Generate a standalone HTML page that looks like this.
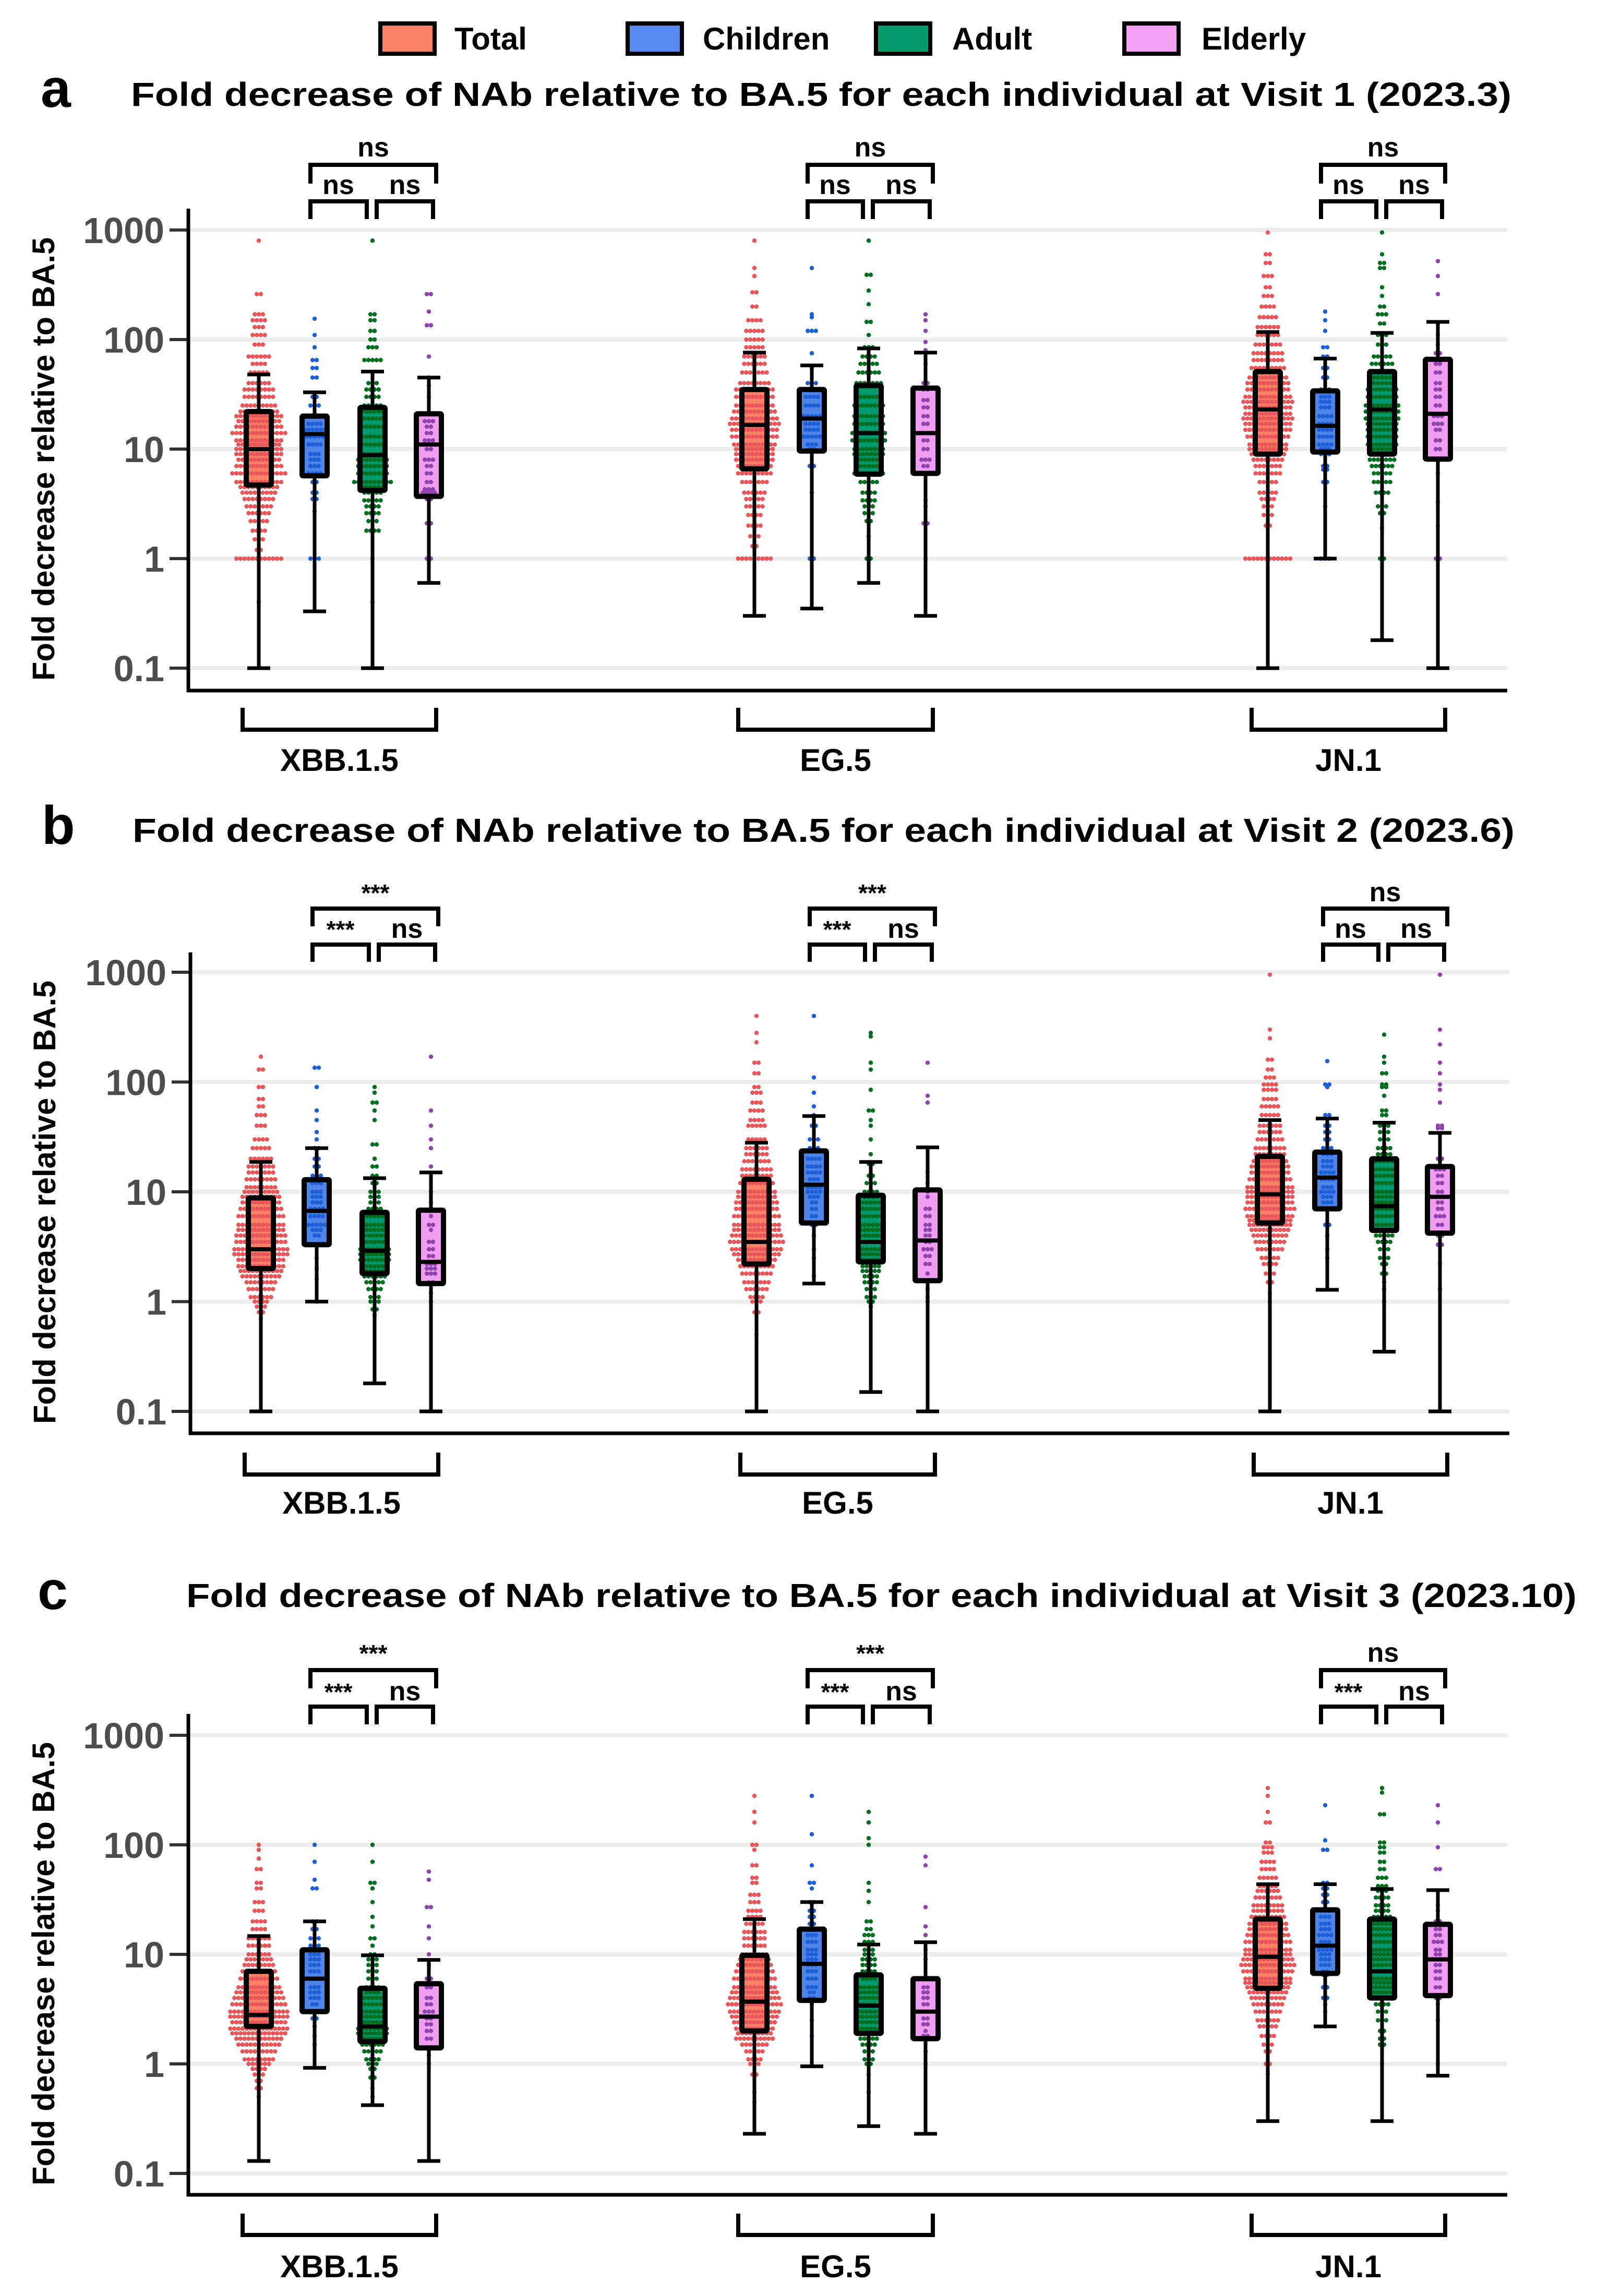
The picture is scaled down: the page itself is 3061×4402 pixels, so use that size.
<!DOCTYPE html>
<html><head><meta charset="utf-8"><style>
html,body{margin:0;padding:0;background:#fff;}
svg{display:block;}
text{font-family:"Liberation Sans",Arial,sans-serif;font-weight:bold;}
</style></head>
<body>
<svg id="chart" xmlns="http://www.w3.org/2000/svg" width="3061" height="4402" viewBox="0 0 3061 4402">
<g>
<rect x="729" y="45" width="104" height="58" fill="#fb8266" stroke="#000" stroke-width="8"/>
<text x="871" y="95" font-size="60">Total</text>
<rect x="1203" y="45" width="104" height="58" fill="#5889ee" stroke="#000" stroke-width="8"/>
<text x="1347" y="95" font-size="60">Children</text>
<rect x="1679" y="45" width="104" height="58" fill="#059a6a" stroke="#000" stroke-width="8"/>
<text x="1825" y="95" font-size="60">Adult</text>
<rect x="2155" y="45" width="104" height="58" fill="#f4a0f4" stroke="#000" stroke-width="8"/>
<text x="2303" y="95" font-size="60">Elderly</text>
</g>
</svg>
<script>
const variants = ["XBB.1.5","EG.5","JN.1"];
const groups = ["Total","Children","Adult","Elderly"];
const tickValues = [0.1,1,10,100,1000];
const tickLabels = ["0.1","1","10","100","1000"];

// Visit 1 box stats (order: XBB Total,Children,Adult,Elderly, EG ..., JN ...)
const v1Low    = [0.1,0.33,0.1,0.6, 0.3,0.35,0.6,0.3, 0.1,1,0.18,0.1];
const v1Q1     = [4.7,5.7,4.2,3.7, 6.6,9.6,5.9,6, 9,9.4,9,8.1];
const v1Median = [10,13.7,8.8,11, 16.6,19,14,14, 23,16.3,23,21];
const v1Q3     = [22,20,24,21, 35,35,38,36, 51,34,51,66];
const v1High   = [48,33,51,45, 76,58,83,76, 117,67,115,145];
// Visit 2
const v2Low    = [0.1,1.0,0.18,0.1, 0.1,1.46,0.15,0.1, 0.1,1.28,0.35,0.1];
const v2Q1     = [2.0,3.3,1.8,1.46, 2.2,5.2,2.3,1.55, 5.2,7,4.45,4.2];
const v2Median = [3.0,6.7,2.9,2.3, 3.5,11.6,3.5,3.6, 9.5,13.5,7.4,9];
const v2Q3     = [8.8,12.9,6.5,6.8, 13,23.6,9.3,10.4, 21,23,20,17];
const v2High   = [18.7,25,13.3,15, 28,49,18.7,25.4, 45,46.5,42.6,34.4];
// Visit 3
const v3Low    = [0.13,0.92,0.42,0.13, 0.23,0.95,0.27,0.23, 0.3,2.2,0.3,0.78];
const v3Q1     = [2.2,3,1.6,1.4, 2.0,3.8,1.9,1.7, 4.9,6.7,4,4.2];
const v3Median = [2.8,6,2.2,2.7, 3.7,8.2,3.4,3.0, 9.5,12,7,9];
const v3Q3     = [7,11,4.9,5.4, 9.8,17,6.5,6, 21,25.5,21,18.8];
const v3High   = [14.7,20,9.8,8.9, 21,30,12.3,12.9, 43.7,43.7,39.5,38.6];

// Individual values as [value, count] rows of the dot plot
const v1Points = [
[[800,1],[260,2],[170,3],[150,4],[130,3],[110,4],[90,3],[70,6],[60,4],[50,5],[40,6],[35,8],[30,8],[25,9],[22,10],[20,12],[18,11],[16,12],[14,14],[12,12],[11,11],[10,12],[9,12],[8,11],[7,12],[6,14],[5,12],[4.5,10],[4,9],[3.5,8],[3,7],[2.6,6],[2.2,5],[1.8,4],[1.5,3],[1.2,2],[1,12],[0.4,1]],
[[155,1],[110,1],[85,1],[65,2],[55,2],[45,2],[30,2],[25,3],[20,4],[17,4],[15,6],[13,5],[11,4],[9,3],[8,3],[7,3],[6,4],[5,2],[4,2],[3.5,2],[2.7,1],[1,3]],
[[800,1],[170,2],[150,2],[120,2],[100,2],[85,3],[65,5],[40,3],[35,4],[30,4],[25,5],[22,6],[19,5],[16,6],[13,6],[11,6],[9,7],[8,8],[7,8],[6,8],[5,10],[4.5,6],[4,5],[3.4,5],[3,4],[2.6,4],[2.2,3],[1.8,4],[1,1],[0.4,1]],
[[260,2],[180,1],[135,2],[70,1],[45,1],[38,1],[30,1],[21,3],[18,3],[16,2],[14,2],[12,3],[11,4],[10,2],[8,3],[7,2],[6,2],[5,2],[4.3,3],[4,4],[3.5,2],[2.1,2],[1,2]],
[[800,1],[450,1],[380,1],[270,2],[200,2],[150,4],[120,5],[100,5],[85,5],[70,6],[60,6],[50,7],[40,8],[35,10],[30,10],[25,10],[22,11],[19,12],[17,13],[15,12],[13,12],[11,11],[10,10],[9,10],[8,10],[7,9],[6,9],[5,7],[4,6],[3.5,5],[3,5],[2.5,4],[2,4],[1.6,3],[1.3,2],[1,9]],
[[450,1],[170,1],[160,1],[120,3],[75,1],[55,1],[40,3],[35,4],[30,4],[25,4],[20,5],[17,4],[15,4],[13,5],[11,3],[10,2],[7,2],[4,1],[1,2]],
[[800,1],[390,2],[280,1],[210,1],[145,2],[110,1],[85,3],[70,4],[60,5],[50,6],[40,7],[30,7],[25,8],[20,8],[17,8],[14,9],[12,9],[10,8],[9,8],[8,7],[7,7],[6,8],[5,5],[4,4],[3.4,4],[3,3],[2.6,3],[2.2,2],[1.6,1],[1,2]],
[[170,1],[150,1],[120,1],[95,1],[80,1],[60,1],[40,2],[35,2],[28,2],[24,2],[20,2],[17,2],[14,4],[12,2],[10,2],[8,3],[7,2],[6,2],[3.4,1],[3,1],[2.1,2],[1,1]],
[[950,1],[600,2],[500,2],[380,3],[300,2],[250,3],[200,4],[160,5],[130,6],[110,6],[90,7],[75,8],[65,8],[55,9],[45,10],[40,11],[35,11],[30,12],[27,13],[24,12],[21,12],[19,13],[17,12],[15,12],[13,11],[11,10],[10,10],[9,9],[8,8],[7,7],[6,7],[5,5],[4,5],[3.5,4],[3,3],[2.5,3],[2,2],[1,12]],
[[180,1],[150,1],[120,1],[85,2],[70,2],[55,2],[45,2],[35,3],[30,3],[27,3],[24,3],[20,4],[17,4],[15,4],[13,4],[11,4],[10,3],[9,3],[7,2],[6.5,2],[5,2],[3,1],[1,3]],
[[950,1],[600,1],[500,2],[450,2],[300,1],[250,1],[200,2],[170,3],[140,2],[110,3],[90,3],[70,5],[60,6],[50,7],[45,7],[40,7],[35,8],[30,8],[25,9],[22,9],[19,9],[17,8],[15,8],[13,8],[11,8],[10,7],[9,7],[8,7],[7,6],[6,5],[5,5],[4,4],[3,3],[2.6,2],[1.9,1],[1,2]],
[[520,1],[380,1],[260,1],[140,1],[110,1],[90,1],[75,2],[60,2],[50,2],[40,2],[35,2],[30,2],[25,2],[20,3],[17,3],[15,2],[12,2],[10,2],[8,2],[6,1],[3.3,1],[2,1],[1,2]]
];
const v2Points = [
[[170,1],[130,2],[90,2],[70,2],[60,2],[50,3],[40,3],[30,4],[25,5],[20,6],[17,7],[15,7],[13,8],[11,8],[10,9],[9,10],[8,10],[7,11],[6,12],[5,12],[4.5,12],[4,13],[3.5,13],[3,14],[2.7,14],[2.4,12],[2.1,12],[1.9,11],[1.7,10],[1.5,8],[1.3,7],[1.1,6],[1,4],[0.9,3],[0.8,2],[0.7,1]],
[[135,2],[90,1],[55,1],[45,1],[35,1],[30,1],[25,2],[20,2],[17,2],[14,3],[12,3],[10,3],[9,3],[8,3],[7,4],[6,4],[5,5],[4.5,3],[4,2],[3.3,2],[2.5,1],[2,1],[1.6,1],[1,1]],
[[90,1],[80,1],[65,2],[55,1],[45,1],[27,2],[20,1],[17,2],[14,2],[12,2],[10,3],[9,3],[8,3],[7,4],[6,5],[5,5],[4.5,5],[4,6],[3.5,7],[3,8],[2.7,8],[2.4,8],[2.1,7],[1.9,7],[1.7,6],[1.5,5],[1.3,4],[1.1,3],[1,3],[0.85,2],[0.75,1]],
[[170,1],[55,1],[40,1],[30,1],[25,1],[17,1],[10,1],[8,1],[6,1],[5,2],[4.5,1],[3.5,2],[3,2],[2.6,2],[2.2,3],[2,3],[1.8,3],[1.5,2],[1.2,1],[1,1]],
[[400,1],[280,1],[230,1],[150,2],[120,2],[90,2],[80,3],[65,3],[55,4],[45,4],[40,5],[30,5],[25,6],[22,6],[19,7],[16,8],[14,8],[12,9],[10,10],[9,10],[8,11],[7,11],[6,12],[5,12],[4.5,12],[4,13],[3.5,14],[3,13],[2.7,12],[2.4,10],[2.1,9],[1.8,8],[1.5,7],[1.3,6],[1.1,4],[1,3],[0.8,2],[0.5,1]],
[[400,1],[110,1],[80,1],[60,1],[50,1],[40,2],[30,3],[25,3],[20,4],[17,4],[15,4],[13,3],[11,4],[10,4],[9,3],[8,2],[7,2],[6,2],[5,2],[4,1],[3,1],[2.5,1],[1.7,1]],
[[280,1],[260,1],[150,1],[130,1],[85,1],[55,2],[45,1],[40,1],[30,1],[22,1],[18,2],[14,2],[12,3],[10,4],[9,4],[8,5],[7,5],[6,6],[5,6],[4.5,6],[4,6],[3.5,7],[3,7],[2.7,6],[2.4,5],[2.1,5],[1.9,5],[1.7,4],[1.5,4],[1.3,3],[1.1,3],[1,2],[0.9,1]],
[[150,1],[75,1],[65,1],[15,1],[12,1],[10,1],[9,1],[7,2],[6,2],[5,2],[4.5,2],[4,2],[3.5,2],[3,3],[2.6,2],[2.2,2],[1.8,1],[1.3,1],[1.1,1],[1,1]],
[[950,1],[300,1],[250,1],[160,2],[130,2],[110,3],[95,4],[85,4],[70,4],[60,5],[50,5],[40,6],[35,6],[30,7],[25,8],[22,8],[19,9],[17,10],[15,10],[13,11],[11,12],[10,12],[9,12],[8,12],[7,13],[6,12],[5.5,11],[5,11],[4.5,10],[4,9],[3.5,8],[3,7],[2.5,5],[2.2,4],[1.8,3],[1.5,2],[1.2,1],[1,1]],
[[155,1],[95,2],[90,1],[50,2],[40,2],[35,2],[30,2],[25,3],[22,3],[19,3],[17,3],[15,4],[13,4],[11,3],[10,4],[9,3],[8,3],[7,2],[5,2],[4,1],[3,1],[2.5,1]],
[[270,1],[170,1],[150,1],[120,2],[95,2],[90,2],[75,1],[55,2],[50,2],[40,3],[35,3],[30,3],[25,4],[22,4],[19,5],[16,5],[14,5],[12,6],[10,6],[9,6],[8,6],[7,6],[6,6],[5,6],[4.5,5],[4,5],[3.5,4],[3,3],[2.5,3],[2.2,2],[1.8,2],[1.5,1],[1.3,1],[1,1]],
[[950,1],[300,1],[220,1],[150,1],[120,1],[95,1],[85,1],[65,1],[40,2],[38,2],[20,2],[16,3],[14,2],[12,2],[10,2],[9,3],[8,2],[7,2],[6,3],[5,2],[4,2],[3.3,2],[2.2,1],[1.3,1]]
];
const v3Points = [
[[100,1],[90,1],[75,1],[60,2],[45,2],[40,2],[30,3],[25,3],[20,4],[17,4],[14,6],[12,6],[10,6],[9,7],[8,8],[7,9],[6,10],[5,11],[4.5,12],[4,13],[3.5,14],[3,15],[2.7,15],[2.4,14],[2.1,15],[1.9,14],[1.7,12],[1.5,11],[1.3,9],[1.1,8],[1,6],[0.9,4],[0.8,3],[0.7,2],[0.6,2],[0.5,1]],
[[100,1],[70,1],[48,1],[40,2],[20,2],[17,2],[14,3],[12,3],[10,3],[9,3],[8,3],[7,3],[6,4],[5,3],[4.5,3],[4,3],[3.5,2],[3,3],[2.6,2],[2.2,1],[1.8,1],[1.5,1]],
[[100,1],[70,1],[45,2],[40,1],[30,1],[22,1],[18,1],[14,2],[12,1],[10,2],[9,3],[8,3],[7,3],[6,3],[5,4],[4.5,4],[4,5],[3.5,5],[3,6],[2.7,6],[2.4,7],[2.1,8],[1.9,8],[1.7,7],[1.5,6],[1.3,5],[1.1,4],[1,3],[0.9,2],[0.75,2],[0.6,1],[0.5,1]],
[[57,1],[48,1],[27,2],[18,1],[14,1],[10,1],[8,1],[6,2],[5,2],[4,2],[3.5,2],[3,3],[2.6,2],[2.3,2],[2,2],[1.7,2],[1.4,1],[1.2,1],[1,1]],
[[280,1],[200,1],[160,1],[100,2],[90,1],[65,2],[50,2],[45,2],[35,3],[30,3],[25,4],[22,4],[19,5],[16,6],[14,6],[12,6],[10,7],[9,8],[8,9],[7,10],[6,11],[5,11],[4.5,12],[4,13],[3.5,14],[3,13],[2.7,12],[2.4,11],[2.1,10],[1.9,9],[1.7,10],[1.5,7],[1.3,5],[1.1,4],[1,3],[0.8,2],[0.55,1],[0.45,1]],
[[280,1],[125,1],[65,1],[45,2],[40,1],[30,2],[25,2],[22,2],[19,2],[17,3],[15,3],[13,3],[11,3],[10,3],[9,3],[8,3],[7,3],[6,3],[5,3],[4.5,2],[4,2],[3.5,1],[2.5,1],[1.8,1]],
[[200,1],[160,1],[115,1],[100,1],[45,1],[38,1],[30,1],[20,2],[17,2],[15,3],[13,3],[11,3],[10,3],[9,4],[8,4],[7,4],[6,4],[5,5],[4.5,5],[4,5],[3.5,6],[3,6],[2.7,6],[2.4,6],[2.1,6],[1.9,5],[1.7,5],[1.5,4],[1.3,3],[1.1,3],[1,2],[0.8,1],[0.55,1]],
[[78,1],[65,1],[27,1],[18,1],[15,1],[11,1],[9,1],[6,1],[5,2],[4.5,2],[4,2],[3.5,2],[3,2],[2.6,2],[2.3,2],[2,1],[1.8,2],[1.7,1],[1.3,1],[1,1]],
[[330,1],[280,1],[200,1],[160,2],[105,2],[95,3],[85,3],[70,4],[60,4],[50,5],[42,5],[38,6],[33,7],[28,8],[25,8],[22,9],[19,10],[17,10],[15,11],[13,12],[11,12],[10,12],[9,13],[8,14],[7,13],[6,12],[5.5,12],[5,11],[4.5,10],[4,9],[3.5,8],[3,7],[2.5,6],[2.2,5],[1.8,4],[1.5,3],[1.3,2],[1,2],[0.8,1]],
[[230,1],[110,1],[90,2],[45,2],[40,2],[35,2],[30,2],[25,3],[22,3],[19,3],[17,3],[15,4],[13,3],[11,4],[10,3],[9,3],[8,3],[7,2],[6.5,2],[5,2],[4,2],[3.5,1],[3,1],[2.2,1]],
[[330,1],[300,1],[190,2],[105,2],[95,2],[85,2],[70,2],[60,2],[50,3],[42,3],[38,3],[33,4],[28,4],[25,4],[22,5],[19,5],[17,5],[15,6],[13,6],[11,6],[10,6],[9,7],[8,7],[7,7],[6,7],[5.5,6],[5,6],[4.5,5],[4,5],[3.5,4],[3,3],[2.5,3],[2,2],[1.7,2],[1.5,2],[1,1]],
[[230,1],[160,1],[95,1],[60,2],[28,1],[25,1],[20,2],[17,2],[15,2],[13,3],[11,2],[10,2],[9,3],[8,2],[7,2],[6,2],[5,2],[4,2],[3.5,1],[2.5,1],[1,1]]
];
const v1SigTop = ["ns","ns","ns"], v1SigLeft = ["ns","ns","ns"], v1SigRight = ["ns","ns","ns"];
const v2SigTop = ["***","***","ns"], v2SigLeft = ["***","***","ns"], v2SigRight = ["ns","ns","ns"];
const v3SigTop = ["***","***","ns"], v3SigLeft = ["***","***","***"], v3SigRight = ["ns","ns","ns"];
const titles = [
 "Fold decrease of NAb relative to BA.5  for each individual at Visit 1 (2023.3)",
 "Fold decrease of NAb relative to BA.5  for each individual at Visit 2 (2023.6)",
 "Fold decrease of NAb relative to BA.5  for each individual at Visit 3 (2023.10)"];
const panelLetters = ["a","b","c"];

const fillColors = ["#fb8266","#4f84e8","#009a70","#f19df1"];
const dotColors = ["#e8565a","#1c5fd6","#006e1e","#8e44ad"];

const layouts = [
 {y1000:441,dec:210,left:361,right:2889,top:400,bottom:1324,dx:0,titleX:251,titleW:2646,titleY:203,letterX:78,letterY:205,yTitleX:104,yTitleC:880,yTitleL:850,brTop:316,brTopDrop:352,brLow:386,brLowDrop:420,topLab:300,lowLab:372,grpTop:1357,grpBot:1399,grpLab:1478},
 {y1000:1864,dec:210.5,left:365,right:2893,top:1826,bottom:2748,dx:4,titleX:254,titleW:2649,titleY:1614,letterX:80,letterY:1618,yTitleX:106,yTitleC:2305,yTitleL:850,brTop:1742,brTopDrop:1776,brLow:1811,brLowDrop:1844,topLab:1728,lowLab:1798,grpTop:2785,grpBot:2827,grpLab:2902},
 {y1000:3327,dec:210,left:361,right:2889,top:3286,bottom:4208,dx:0,titleX:357,titleW:2665,titleY:3081,letterX:72,letterY:3085,yTitleX:104,yTitleC:3765,yTitleL:850,brTop:3202,brTopDrop:3237,brLow:3272,brLowDrop:3306,topLab:3186,lowLab:3260,grpTop:4244,grpBot:4285,grpLab:4366}
];
const baseCx = [[496,603,714,822],[1446,1556,1665,1774],[2430,2540,2649,2756]];

const visitData = [
 {low:v1Low,q1:v1Q1,med:v1Median,q3:v1Q3,high:v1High,pts:v1Points,top:v1SigTop,l:v1SigLeft,r:v1SigRight},
 {low:v2Low,q1:v2Q1,med:v2Median,q3:v2Q3,high:v2High,pts:v2Points,top:v2SigTop,l:v2SigLeft,r:v2SigRight},
 {low:v3Low,q1:v3Q1,med:v3Median,q3:v3Q3,high:v3High,pts:v3Points,top:v3SigTop,l:v3SigLeft,r:v3SigRight}
];

const NS = "http://www.w3.org/2000/svg";
const svg = document.getElementById("chart");
function mk(tag, attrs, parent){
  const e = document.createElementNS(NS, tag);
  for (const k in attrs) e.setAttribute(k, attrs[k]);
  (parent||svg).appendChild(e);
  return e;
}

visitData.forEach((D, p) => {
  const L = layouts[p];
  const yScale = v => L.y1000 + (3 - Math.log10(v)) * L.dec;
  const g = mk("g", {});
  
  

  const letter = mk("text", {x:L.letterX, y:L.letterY, "font-size":104}, g);
  letter.textContent = panelLetters[p];
  
  

  const title = mk("text", {x:L.titleX, y:L.titleY, "font-size":64, textLength:L.titleW, lengthAdjust:"spacingAndGlyphs"}, g);
  title.textContent = titles[p];
  
  

  tickValues.forEach((tv, i) => {
    const y = yScale(tv);
    const gl = mk("line", {x1:L.left, x2:L.right, y1:y, y2:y, stroke:"#ededed", "stroke-width":8}, g);
    
    
    const tk = mk("line", {x1:L.left-36, x2:L.left-3, y1:y, y2:y, stroke:"#333", "stroke-width":6}, g);
    
    
    const tl = mk("text", {x:L.left-46, y:y+25, "font-size":70, fill:"#4d4d4d", "text-anchor":"end"}, g);
    tl.textContent = tickLabels[i];
    
    
  });

  const yt = mk("text", {x:0, y:0, "font-size":60, "text-anchor":"middle", textLength:L.yTitleL, lengthAdjust:"spacingAndGlyphs",
     transform:`translate(${L.yTitleX},${L.yTitleC}) rotate(-90)`}, g);
  yt.textContent = "Fold decrease relative to BA.5";
  
  

  variants.forEach((vn, vi) => {
    const cxs = baseCx[vi].map(c => c + L.dx);
    groups.forEach((gn, gi) => {
      const k = vi*4 + gi;
      const cx = cxs[gi];
      const bg = mk("g", {}, g);
      
      
      const yq1 = yScale(D.q1[k]), yq3 = yScale(D.q3[k]);
      const fill = mk("rect", {x:cx-24, y:yq3, width:48, height:yq1-yq3, fill:fillColors[gi]}, bg);
      
      
      D.pts[k].forEach(([v, n]) => {
        const y = yScale(v);
        for (let i = 0; i < n; i++) {
          const d = mk("circle", {cx: cx + (i - (n-1)/2) * 7.8, cy: y, r: 4.2, fill: dotColors[gi]}, bg);
          
          
        }
      });
      const yl = yScale(D.low[k]), yh = yScale(D.high[k]);
      const w1 = mk("line", {x1:cx, x2:cx, y1:yh, y2:yq3, stroke:"#000", "stroke-width":7}, bg);
      
      
      const w2 = mk("line", {x1:cx, x2:cx, y1:yq1, y2:yl, stroke:"#000", "stroke-width":7}, bg);
      
      
      const c1 = mk("line", {x1:cx-22, x2:cx+22, y1:yh, y2:yh, stroke:"#000", "stroke-width":7}, bg);
      
      
      const c2 = mk("line", {x1:cx-22, x2:cx+22, y1:yl, y2:yl, stroke:"#000", "stroke-width":7}, bg);
      
      
      const bx = mk("rect", {x:cx-24, y:yq3, width:48, height:yq1-yq3, fill:"none", stroke:"#000", "stroke-width":10, rx:2}, bg);
      
      
      const ym = yScale(D.med[k]);
      const md = mk("line", {x1:cx-24, x2:cx+24, y1:ym, y2:ym, stroke:"#000", "stroke-width":8}, bg);
      
      
    });

    const sx1 = cxs[1]-8, sx2 = cxs[3]+14;
    const tb = mk("path", {d:`M${sx1},${L.brTopDrop} V${L.brTop} H${sx2} V${L.brTopDrop}`, fill:"none", stroke:"#000", "stroke-width":8}, g);
    
    
    const lb = mk("path", {d:`M${cxs[1]-8},${L.brLowDrop} V${L.brLow} H${cxs[2]-11} V${L.brLowDrop}`, fill:"none", stroke:"#000", "stroke-width":8}, g);
    
    
    const rb = mk("path", {d:`M${cxs[2]+8},${L.brLowDrop} V${L.brLow} H${cxs[3]+8} V${L.brLowDrop}`, fill:"none", stroke:"#000", "stroke-width":8}, g);
    
    
    const st = mk("text", {x:(sx1+sx2)/2, y:L.topLab, "font-size":D.top[vi]==="***"?46:52, "text-anchor":"middle"}, g);
    st.textContent = D.top[vi];
    
    
    const sl = mk("text", {x:(cxs[1]+cxs[2])/2 - 10, y:L.lowLab, "font-size":D.l[vi]==="***"?46:52, "text-anchor":"middle"}, g);
    sl.textContent = D.l[vi];
    
    
    const sr = mk("text", {x:(cxs[2]+cxs[3])/2 + 8, y:L.lowLab, "font-size":D.r[vi]==="***"?46:52, "text-anchor":"middle"}, g);
    sr.textContent = D.r[vi];
    
    

    const gx1 = cxs[0]-31, gx2 = cxs[3]+14;
    const gb = mk("path", {d:`M${gx1},${L.grpTop} V${L.grpBot} H${gx2} V${L.grpTop}`, fill:"none", stroke:"#000", "stroke-width":8}, g);
    
    
    const gl = mk("text", {x:(gx1+gx2)/2, y:L.grpLab, "font-size":60, "text-anchor":"middle"}, g);
    gl.textContent = vn;
    
    
  });

  const ax = mk("line", {x1:L.left, x2:L.left, y1:L.top, y2:L.bottom+3, stroke:"#000", "stroke-width":7}, g);
  
  
  const bx = mk("line", {x1:L.left-3, x2:L.right, y1:L.bottom, y2:L.bottom, stroke:"#000", "stroke-width":7}, g);
  
  
});
</script>
</body></html>
